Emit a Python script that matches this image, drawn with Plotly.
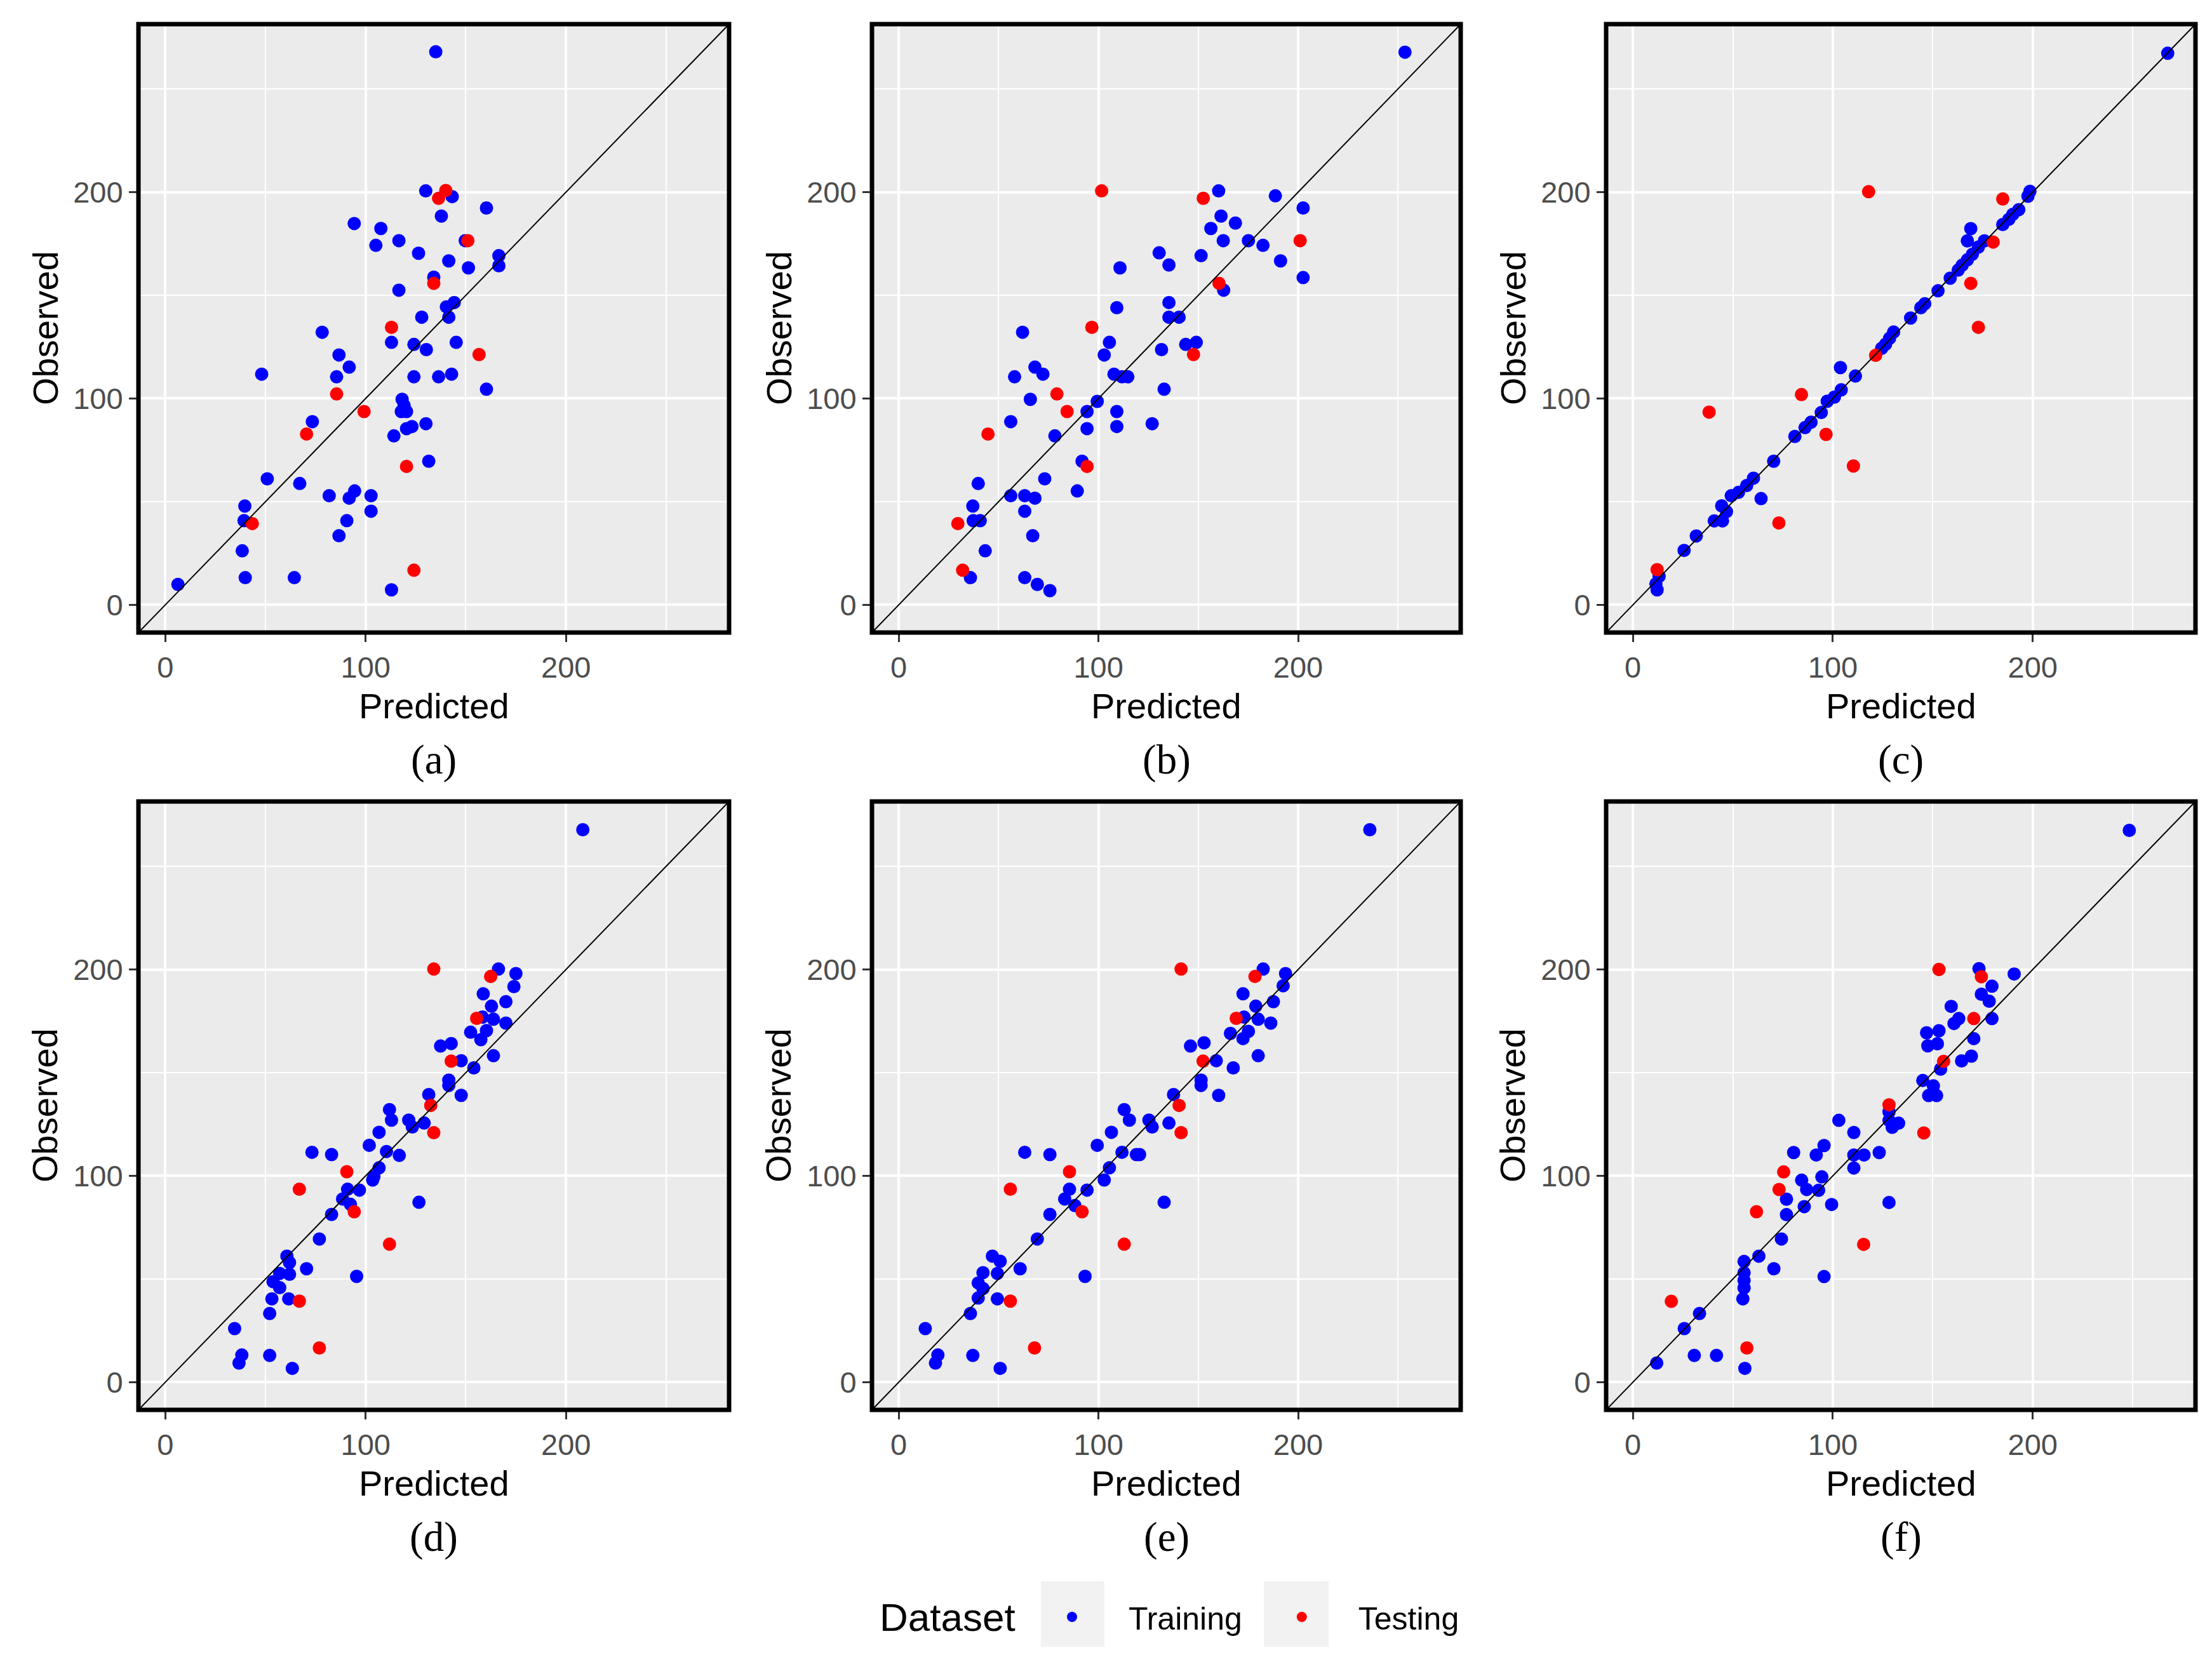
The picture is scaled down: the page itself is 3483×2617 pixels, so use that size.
import plotly.graph_objects as go

# Predicted (x) vs observed (y) values.
# Training = blue, Testing = red.

# (a)
a_train_pred = [135, 130, 143.2, 160.3, 137.8, 94.3, 107.6, 105.1, 116.6, 149.7, 126.4, 141.5,
                151.3, 166.5, 166.5, 134, 116.6, 144.2, 140.3, 141.5, 128, 78.3, 112.9, 124.1,
                130.3, 145.2, 86.7, 91.8, 85.5, 48.1, 124.1, 136.4, 142.9, 160.3, 118.2, 119.2,
                117.8, 120.4, 73.4, 130.1, 123.1, 120.4, 114.1, 131.5, 50.9, 67.1, 81.8, 94.5,
                91.8, 102.7, 102.7, 90.6, 86.7, 39.7, 39.3, 38.4, 39.9, 64.4, 112.9, 6.3]
a_train_obs = [268, 200.6, 197.8, 192.3, 188.4, 184.8, 182.4, 174.2, 176.5, 176.5, 170.4, 166.7,
               163.3, 169.2, 164.3, 158.8, 152.5, 146.5, 144.4, 139.4, 139.4, 132.1, 127.2, 126.2,
               123.7, 127.2, 121.1, 115.2, 110.5, 111.8, 110.5, 110.5, 111.8, 104.5, 99.6, 96.6,
               93.7, 93.7, 88.8, 87.8, 86.4, 85.4, 81.9, 69.6, 61.1, 58.8, 52.9, 55.2,
               51.7, 52.9, 45.4, 40.8, 33.5, 47.9, 40.8, 26.2, 13.2, 13.2, 7.3, 9.9]
a_test_pred = [140, 136.4, 151, 134, 112.9, 156.6, 85.5, 99.2, 70.5, 120.4, 43.4, 124.1]
a_test_obs = [200.8, 197, 176.5, 155.8, 134.5, 121.3, 102.2, 93.7, 82.8, 67.1, 39.4, 16.8]

# (b)
b_train_pred = [253.5, 160.2, 188.6, 202.5, 161.4, 168.6, 156.3, 162.5, 175.1, 182.4, 130.4, 135.3,
                151.4, 191.2, 110.8, 202.5, 162.7, 135.3, 109.2, 135.3, 140.4, 62, 105.5, 143.7,
                149, 131.6, 102.9, 68.2, 72.2, 58, 107.8, 111.8, 114.7, 132.9, 99.4, 65.9,
                94.3, 109.2, 56.1, 94.3, 109.2, 126.9, 78.2, 91.8, 73.1, 39.8, 89.4, 56.1,
                63.1, 68.2, 37.1, 63.1, 37.3, 40.8, 67.1, 43.3, 35.9, 63.1, 69.4, 75.7]
b_train_obs = [267.8, 200.6, 198.2, 192.3, 188.4, 185, 182.4, 176.5, 176.5, 174.2, 170.6, 164.7,
               169.2, 166.7, 163.3, 158.6, 152.5, 146.5, 144, 139.4, 139.4, 132.1, 127.2, 126.2,
               127.2, 123.7, 121.1, 115.2, 111.8, 110.5, 111.8, 110.5, 110.5, 104.5, 98.6, 99.6,
               93.7, 93.7, 88.8, 85.4, 86.4, 87.8, 81.9, 69.6, 61.1, 58.8, 55.2, 52.9,
               52.9, 51.7, 47.9, 45.4, 40.8, 40.8, 33.5, 26.2, 13.2, 13.2, 9.9, 6.9]
b_test_pred = [101.6, 152.5, 201, 160.4, 96.7, 147.6, 79.2, 84.3, 44.7, 94.3, 29.6, 32]
b_test_obs = [200.6, 197, 176.5, 155.8, 134.5, 121.3, 102.2, 93.7, 82.8, 67.1, 39.4, 16.8]

# (c)
c_train_pred = [267.5, 198.6, 197.6, 193, 190, 188, 185, 169, 167.3, 175.8, 172.8, 169.8,
                167.3, 164.7, 162.7, 158.7, 152.6, 146, 144, 138.9, 130.4, 128.4, 126.4, 124.4,
                103.8, 111.3, 104.2, 100.8, 97.2, 94.2, 89.1, 86.1, 81, 70.4, 60.3, 56.9,
                52.8, 49.2, 64.1, 44.4, 46.8, 40.7, 44.8, 31.7, 25.6, 13.1, 11.5, 12.1]
c_train_obs = [267.3, 200.4, 198, 191.5, 189.2, 186.8, 184.3, 182.3, 176.4, 176.4, 173.4, 169.9,
               167.2, 164.6, 162.2, 158.3, 152.2, 145.9, 144, 139, 132.2, 129.2, 126.3, 124.3,
               115, 110.9, 104.2, 100.7, 98.7, 93.2, 88.5, 85.9, 81.6, 69.6, 61.4, 57.8,
               54.5, 52.9, 51.5, 48, 45.2, 40.7, 40.7, 33.4, 26.4, 13.8, 10.2, 7.3]
c_test_pred = [117.9, 185, 180.2, 169, 172.8, 121.4, 84.3, 38.1, 96.6, 110.3, 73, 12.1]
c_test_obs = [200.2, 196.7, 175.8, 155.8, 134.5, 120.9, 101.9, 93.4, 82.6, 67.3, 39.7, 17.1]

# (d)
d_train_pred = [208.4, 166.3, 175, 174, 158.7, 170, 162.8, 158.3, 163.8, 170, 152.4, 160.3,
                157.5, 137.4, 142.7, 163.8, 147.7, 154, 141.5, 141.5, 131.5, 147.7, 111.9, 112.9,
                121.5, 123.3, 129.2, 106.7, 101.8, 73.2, 83, 110.4, 116.8, 106.7, 104.1, 103.5,
                96.9, 91, 88.5, 92.4, 126.6, 83, 76.9, 60.7, 62, 70.5, 57.1, 62,
                53.8, 57.1, 95.5, 53.2, 61.6, 52.1, 34.6, 38.2, 36.8, 52.1, 63.4]
d_train_obs = [267.7, 200.2, 198, 191.7, 188.2, 184.4, 182.2, 176.9, 175.9, 174, 169.6, 170.4,
               166, 162.9, 164.1, 158.2, 155.8, 152.3, 146.4, 143.8, 139.4, 139, 132.1, 127,
               127, 123.7, 125.6, 121.1, 114.8, 111.4, 110.3, 111.8, 109.9, 103.9, 99.6, 98,
               93.1, 93.5, 88.8, 86.2, 87.2, 81.3, 69.4, 61.1, 58, 55, 52.7, 52.3,
               48.7, 45.8, 51.3, 40.4, 40.4, 33.3, 26, 13.2, 9.3, 13, 6.7]
d_test_pred = [134, 162.4, 155.4, 142.7, 132.5, 134, 90.6, 66.9, 94.3, 111.9, 66.9, 76.9]
d_test_obs = [200.2, 196.6, 176.3, 155.6, 134.1, 120.9, 102, 93.5, 82.6, 66.9, 39.3, 16.6]

# (e)
e_train_pred = [235.9, 182.5, 193.7, 192.5, 172.4, 187.6, 178.8, 172.9, 180, 186.3, 166.1, 175.1,
                172.4, 146.1, 152.9, 180, 159, 167.5, 151.4, 151.4, 137.6, 160.2, 112.9, 115.5,
                125.3, 126.9, 135.3, 106.5, 99.4, 63.1, 75.7, 111.8, 119, 120.6, 105.5, 102.9,
                94.3, 85.5, 83.1, 88.2, 132.9, 75.7, 69.4, 46.9, 50.8, 60.8, 42.2, 49.4,
                39.8, 42.2, 93.3, 39.8, 49.4, 35.9, 13.3, 19.6, 18.4, 37.1, 50.8]
e_train_obs = [267.7, 200.2, 198, 192.1, 188.2, 184.4, 182.2, 176.9, 175.9, 174, 169, 170,
               166.5, 162.9, 164.5, 158.2, 155.8, 152.3, 146.4, 143.8, 139.4, 139, 132.1, 127,
               127, 123.7, 125.6, 121.1, 114.8, 111.4, 110.3, 111.4, 110.3, 110.3, 103.9, 98,
               93.1, 93.5, 88.8, 85.6, 87.2, 81.3, 69.4, 61.1, 58.6, 55, 53.1, 52.7,
               48.1, 45.4, 51.3, 40.8, 40.4, 33.3, 26, 13.2, 9.3, 13, 6.7]
e_test_pred = [141.4, 178.4, 169, 152.4, 140.4, 141.4, 85.5, 55.9, 91.8, 112.9, 55.9, 68]
e_test_obs = [200.2, 196.6, 176.3, 155.6, 134.1, 120.9, 102, 93.5, 82.6, 66.9, 39.3, 16.6]

# (f)
f_train_pred = [248.3, 173.1, 190.7, 179.6, 174.3, 178.2, 159.2, 179.6, 163, 160.6, 146.9, 153.1,
                147.5, 152.3, 170.5, 169.3, 164.4, 153.9, 145, 150.3, 147.9, 151.9, 128.1, 128.1,
                129.7, 132.9, 103, 110.5, 95.6, 91.7, 80.4, 110.5, 115.6, 123.2, 110.5, 94.5,
                84.4, 86.9, 92.9, 76.8, 99.4, 85.7, 128.1, 76.8, 74.3, 63, 55.6, 70.5,
                55.6, 55.6, 55.6, 55, 95.6, 33.3, 25.7, 30.7, 41.8, 11.9, 56]
f_train_obs = [267.4, 200.4, 197.8, 191.9, 188, 184.6, 182.1, 176.2, 176.2, 173.8, 169.3, 170.3,
               163, 164, 166.5, 158, 155.7, 151.7, 146.2, 143.6, 138.9, 138.9, 131, 126.9,
               123.5, 125.5, 126.9, 121, 114.7, 110.1, 111.3, 110.1, 110.1, 111.3, 103.8, 99.5,
               97.9, 93.4, 93, 88.7, 86.1, 85.1, 87.1, 81.2, 69.4, 61.1, 58.5, 55,
               53, 49.3, 45.7, 40.4, 51.2, 33.3, 26, 13, 13, 9.3, 6.7]
f_test_pred = [153.1, 174.3, 170.5, 155.4, 128.1, 145.5, 75.4, 73.1, 61.8, 115.4, 19.2, 57]
f_test_obs = [200, 196.5, 176.2, 155.5, 134.4, 120.8, 101.9, 93.4, 82.6, 66.8, 39.2, 16.6]

panel_labels = ["(a)", "(b)", "(c)", "(d)", "(e)", "(f)"]
axis_ticks = [0, 100, 200]
minor_ticks = [50, 150, 250]
axis_range = [-13.4, 281.4]

# page geometry (the browser adds an 8px body margin)
W, H, OFF = 3467, 2601, 8


def px(x):
    return (x - OFF) / W


def py(y):
    return 1 - (y - OFF) / H


COLS = [(218, 1148), (1373, 2300), (2529, 3457)]
ROWS = [(38, 996), (1262, 2220)]
SANS = "Liberation Sans"
SERIF = "Liberation Serif"

panels = [
    (a_train_pred, a_train_obs, a_test_pred, a_test_obs),
    (b_train_pred, b_train_obs, b_test_pred, b_test_obs),
    (c_train_pred, c_train_obs, c_test_pred, c_test_obs),
    (d_train_pred, d_train_obs, d_test_pred, d_test_obs),
    (e_train_pred, e_train_obs, e_test_pred, e_test_obs),
    (f_train_pred, f_train_obs, f_test_pred, f_test_obs),
]

fig = go.Figure()
annotations = []

for i, (trx, try_, tex, tey) in enumerate(panels):
    r, c = divmod(i, 3)
    n = "" if i == 0 else str(i + 1)
    xa, ya = "x" + n, "y" + n

    fig.add_trace(go.Scatter(
        x=trx, y=try_, mode="markers", name="Training", legendgroup="Training",
        showlegend=(i == 0), marker=dict(color="#0000FF", size=21),
        xaxis=xa, yaxis=ya,
    ))
    fig.add_trace(go.Scatter(
        x=tex, y=tey, mode="markers", name="Testing", legendgroup="Testing",
        showlegend=(i == 0), marker=dict(color="#FF0000", size=21),
        xaxis=xa, yaxis=ya,
    ))

    common = dict(
        range=axis_range, tickvals=axis_ticks, showgrid=True, gridcolor="white",
        gridwidth=4, zeroline=False, showline=False, ticks="outside", ticklen=14,
        tickwidth=3, tickcolor="#333333",
        tickfont=dict(family=SANS, size=47, color="#4D4D4D"),
        minor=dict(tickvals=minor_ticks, showgrid=True, gridcolor="white", gridwidth=2),
    )
    x0, x1 = COLS[c]
    y0, y1 = ROWS[r]
    fig.layout["xaxis" + n] = dict(domain=[px(x0), px(x1)], anchor=ya, **common)
    fig.layout["yaxis" + n] = dict(domain=[py(y1), py(y0)], anchor=xa, **common)

    # 1:1 line and panel border
    fig.add_shape(type="line", xref=xa, yref=ya,
                  x0=axis_range[0], y0=axis_range[0], x1=axis_range[1], y1=axis_range[1],
                  line=dict(color="black", width=2))
    fig.add_shape(type="rect", xref=xa + " domain", yref=ya + " domain",
                  x0=0, y0=0, x1=1, y1=1, line=dict(color="black", width=7))

    cx = (x0 + x1) / 2
    cy = (y0 + y1) / 2
    annotations.append(dict(text="Predicted", x=px(cx), y=py(y1 + 115), xref="paper", yref="paper",
                            showarrow=False, font=dict(family=SANS, size=56, color="black"),
                            xanchor="center", yanchor="middle"))
    annotations.append(dict(text="Observed", x=px(x0 - 147), y=py(cy), xref="paper", yref="paper",
                            showarrow=False, textangle=-90,
                            font=dict(family=SANS, size=56, color="black"),
                            xanchor="center", yanchor="middle"))
    annotations.append(dict(text=panel_labels[i], x=px(cx), y=py(y1 + 200), xref="paper",
                            yref="paper", showarrow=False,
                            font=dict(family=SERIF, size=65, color="black"),
                            xanchor="center", yanchor="middle"))

# legend title, drawn as text next to the legend
annotations.append(dict(text="Dataset", x=px(1383), y=py(2546), xref="paper", yref="paper",
                        showarrow=False, font=dict(family=SANS, size=62, color="black"),
                        xanchor="left", yanchor="middle"))

# grey key backgrounds behind the legend symbols
for kx0, kx1 in [(1639, 1739), (1990, 2092)]:
    fig.add_shape(type="rect", xref="paper", yref="paper",
                  x0=px(kx0), x1=px(kx1), y0=py(2593), y1=py(2490),
                  fillcolor="#F2F2F2", line=dict(width=0), layer="below")

fig.update_layout(
    width=W, height=H,
    margin=dict(l=0, r=0, t=0, b=0),
    paper_bgcolor="white",
    plot_bgcolor="#EBEBEB",
    annotations=annotations,
    legend=dict(
        orientation="h", x=px(1599), y=py(2546), xanchor="left", yanchor="middle",
        font=dict(family=SANS, size=50, color="black"),
        bgcolor="rgba(0,0,0,0)",
        itemwidth=168,
    ),
)

fig.write_html("out.html")
